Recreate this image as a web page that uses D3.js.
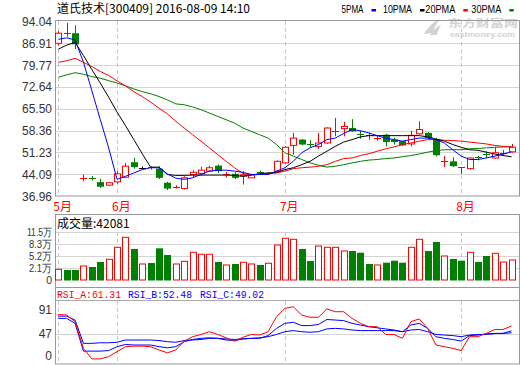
<!DOCTYPE html>
<html><head><meta charset="utf-8">
<script src="https://cdn.jsdelivr.net/npm/d3@7"></script>
<style>body{margin:0;background:#fff}svg{display:block}</style>
</head><body>
<svg width="520" height="365"></svg>
<script>
// ---------- data ----------
const dates = ["05-23","05-24","05-25","05-26","05-27","05-30","05-31",
 "06-01","06-02","06-03","06-06","06-07","06-08","06-13","06-14","06-15","06-16","06-17","06-20","06-21","06-22","06-23","06-24","06-27","06-28","06-29","06-30",
 "07-01","07-04","07-05","07-06","07-07","07-08","07-11","07-12","07-13","07-14","07-15","07-18","07-19","07-20","07-21","07-22","07-25","07-26","07-27","07-28","07-29",
 "08-01","08-02","08-03","08-04","08-05","08-08","08-09"];
const open  = [86.9,90.3,90.2,42.8,42.7,41.5,40.5,41.6,43.1,48.0,46.2,46.3,45.9,41.3,39.9,39.4,44.0,44.3,45.1,46.9,43.9,44.2,43.5,42.9,44.8,44.5,45.1,47.8,53.5,55.4,53.9,53.2,54.3,58.2,59.0,59.2,57.4,56.8,55.8,57.0,55.4,54.9,54.0,57.3,57.6,55.4,48.4,48.3,46.3,45.9,49.7,50.6,49.4,51.0,51.4];
const high  = [90.9,93.6,92.8,44.0,43.5,42.6,41.5,45.1,47.7,49.4,46.6,46.6,46.7,41.6,40.5,43.4,45.4,46.5,46.8,47.3,44.9,44.7,45.1,44.2,45.3,44.8,48.6,53.2,57.6,55.6,55.2,57.6,59.4,62.5,61.2,62.1,58.3,57.6,56.7,57.3,56.0,55.0,58.3,61.4,57.9,56.0,50.0,49.6,46.4,49.6,50.1,51.6,52.9,52.0,54.0];
const low   = [86.1,89.1,85.0,41.8,42.0,39.6,40.3,41.0,42.9,45.9,45.7,45.6,42.5,38.9,39.4,39.1,42.9,43.8,44.8,44.5,43.0,42.5,40.7,42.9,44.4,44.3,45.0,47.6,50.5,53.5,52.8,52.4,54.0,56.5,56.5,58.0,55.7,55.4,55.1,53.2,53.8,53.3,53.2,57.0,55.7,49.9,46.4,46.4,44.2,45.6,48.6,49.4,49.2,50.2,51.1];
const close = [90.2,90.1,86.6,42.9,42.6,40.0,41.3,44.2,46.7,46.4,46.2,46.1,42.9,39.4,40.0,42.9,44.7,45.4,46.2,45.1,44.0,42.9,43.9,44.0,44.7,44.6,48.3,52.9,55.9,53.8,53.8,54.3,59.2,58.3,59.7,58.1,57.3,56.7,55.9,54.6,54.6,53.5,56.8,58.7,56.0,50.3,48.5,46.7,46.2,49.4,49.6,50.5,51.1,51.1,52.9];
const ma5  = [88.2,88.7,88.0,80.7,71.4,62.0,52.7,42.4,43.4,44.5,45.6,46.2,46.2,44.2,42.8,42.4,42.9,44.0,45.1,45.4,45.4,45.1,44.7,44.0,44.0,44.0,45.1,46.2,48.3,51.1,52.7,53.8,55.4,55.9,57.4,58.7,58.3,57.6,56.7,55.9,55.4,54.9,55.4,55.9,55.9,55.4,54.3,52.1,50.0,48.9,48.9,49.4,50.0,50.7,51.4];
const ma10 = [85.0,86.3,87.2,82.9,78.3,73.9,69.3,64.4,60.0,55.4,50.8,46.4,46.4,44.0,43.7,43.7,43.8,43.8,43.8,43.8,43.8,43.7,43.4,43.8,44.3,44.5,44.7,45.6,46.2,47.2,48.3,50.0,51.6,53.2,54.6,55.4,56.3,56.7,56.7,56.7,56.7,56.7,56.7,56.7,56.3,55.6,54.9,53.8,52.9,52.1,51.9,51.3,50.7,50.2,49.8];
const ma20 = [80.7,81.2,82.0,80.7,79.3,77.7,76.4,74.6,73.0,71.1,69.5,67.7,65.7,63.8,61.4,59.2,57.0,54.9,52.7,50.5,48.3,46.2,44.3,43.8,44.0,44.2,44.5,45.1,45.9,46.2,46.4,46.7,47.2,48.3,49.2,49.4,50.2,50.8,51.6,52.4,53.0,53.8,54.3,54.9,55.4,55.4,55.2,55.1,54.9,54.6,54.3,54.0,53.5,53.2,53.0];
const ma30 = [75.8,76.6,77.3,76.8,76.0,75.5,74.7,73.9,73.0,72.0,71.1,70.4,69.5,68.4,67.1,66.8,66.1,65.2,64.1,63.0,61.9,60.8,59.2,58.1,57.0,55.9,53.8,51.1,50.0,48.9,47.8,47.0,46.4,46.7,47.2,47.8,48.3,48.7,48.9,49.2,49.4,49.8,50.2,50.7,51.3,51.8,52.1,52.1,52.1,52.4,52.5,52.7,52.9,53.0,53.2];
const volume = [25800,24100,24100,33800,31300,43400,49900,78800,102900,74700,38600,41000,76400,60300,38600,45100,66800,62000,62000,43400,36200,38600,42700,38600,36200,40300,84400,100500,98100,74700,45800,82000,78800,78800,69900,69900,65800,38600,36200,41700,46500,41700,78800,98100,69900,91600,57900,50600,46500,66800,43400,57900,64400,43400,48200];
const rsiA = [82,81,69,21,2,2,6,15,24,25,25,24,18,13,18,34,42,46,51,46,40,34,41,46,45,51,78,93,96,81,77,77,92,87,87,75,66,60,60,46,46,39,69,74,57,27,24,21,17,42,42,48,55,55,61.31];
const rsiB = [75,75,66,16,16,16,17,24,28,27,27,27,24,22,24,33,37,39,40,39,36,35,38,39,39,44,57,66,68,62,62,64,73,72,71,66,63,60,58,56,54,51,63,66,57,42,39,37,34,44,45,47,48,48,52.48];
const rsiC = [79,79,72,30,30,31,31,32,36,36,36,36,35,33,32,35,36,37,39,39,38,37,38,39,40,42,46,51,53,51,50,51,56,57,56,54,53,53,53,53,53,51,54,55,51,46,45,44,42,45,46,46,47.5,48,49.02];
const priceTicks = [36.96,44.09,51.23,58.36,65.50,72.64,79.77,86.91,94.04];
const volTicks = [0,28750,57500,86250,115000];
const volTickLabels = ["0","2.1万","5.2万","8.3万","11.5万"];
const rsiTicks = [0,47,91];
const titleText = "道氏技术[300409] 2016-08-09 14:10";
const volTitle = "成交量:42081";
const legendNames = ["5PMA","10PMA","20PMA","30PMA"];
const rsiNames = ["RSI_A:61.31","RSI_B:52.48","RSI_C:49.02"];

// ---------- drawing ----------
const RED="#ff0000", GREEN="#008000", BLUE="#0000ff", BLACK="#000000";
const svg = d3.select("svg");
const L=55.5, R=519.5;
const x = d3.scalePoint().domain(dates).range([58.3, 511.5]);
const yP = d3.scaleLinear().domain([36.96,94.04]).range([196,21.5]);
const yV = d3.scaleLinear().domain([0,115000]).range([280,232.3]);
const yR = d3.scaleLinear().domain([0,100]).range([360,304.5]);
const sans = "'Liberation Sans', Arial, sans-serif";
const mono = "'Liberation Mono','Noto Sans CJK SC', monospace";
const cjk = "'Noto Sans CJK SC', sans-serif";
const gridC = "#d4d4d4", frameC = "#999";
const monthStarts = dates.filter((d,i)=> i===0 || d.slice(0,2)!==dates[i-1].slice(0,2));

// title
svg.append("text").attr("x",57).attr("y",13).attr("font-family",cjk).attr("font-size",12)
  .attr("fill","#000").text(titleText);

// ---------- main panel ----------
const main = svg.append("g");
// watermark
const wm = main.append("g").attr("fill","#d2d2d2");
wm.append("path").attr("d","M424,34 C428,28 432,22 440,19 C436,24 434,28 433,33 Z M430,35 C433,31 436,27 441,25 C439,29 437,32 437,35 Z");
wm.append("text").attr("x",448).attr("y",27).attr("font-family",cjk).attr("font-size",10).attr("font-weight","bold")
  .attr("textLength",70).attr("lengthAdjust","spacingAndGlyphs").text("东方财富网");
wm.append("text").attr("x",450).attr("y",37).attr("font-family",sans).attr("font-size",7).attr("font-weight","bold")
  .attr("textLength",65).attr("lengthAdjust","spacingAndGlyphs").text("eastmoney.com");

main.selectAll("line.grid").data(priceTicks.slice(1,-1)).join("line")
  .attr("x1",L).attr("x2",R).attr("y1",d=>Math.round(yP(d))+0.5).attr("y2",d=>Math.round(yP(d))+0.5)
  .attr("stroke",gridC);
main.selectAll("line.mon").data(monthStarts).join("line")
  .attr("x1",d=>Math.round(x(d))+0.5).attr("x2",d=>Math.round(x(d))+0.5)
  .attr("y1",21).attr("y2",196).attr("stroke","#c8c8c8").attr("stroke-dasharray","4,3");
main.append("rect").attr("x",L).attr("y",20.5).attr("width",R-L).attr("height",175.5)
  .attr("fill","none").attr("stroke",frameC);
main.selectAll("text.pl").data(priceTicks).join("text")
  .attr("x",52).attr("y",d=>Math.max(yP(d),16)+4.5).attr("text-anchor","end")
  .attr("font-family",sans).attr("font-size",12).attr("fill","#333").text(d=>d.toFixed(2));

// legend
const legColors=[BLUE,BLACK,RED,GREEN];
const legDash=[371.5,420,463.3,509.3];
const legW=[22,29,30,30];
legendNames.forEach((n,i)=>{
  svg.append("text").attr("x",legDash[i]-8-legW[i]).attr("y",12.8)
    .attr("font-family",sans).attr("font-size",11).attr("fill","#000")
    .attr("textLength",legW[i]).attr("lengthAdjust","spacingAndGlyphs").text(n);
  svg.append("rect").attr("x",legDash[i]).attr("y",9).attr("width",4.5).attr("height",2.5).attr("fill",legColors[i]);
});

// candles
const cw=6;
const cg = main.append("g");
dates.forEach((d,i)=>{
  const o=open[i], c=close[i], h=high[i], l=low[i];
  const col = c>o?RED:(c<o?GREEN:BLACK);
  const cx = Math.round(x(d))+0.5;
  cg.append("line").attr("x1",cx).attr("x2",cx).attr("y1",yP(h)).attr("y2",yP(l)).attr("stroke",col);
  const top=yP(Math.max(o,c)), bot=yP(Math.min(o,c));
  if (bot-top < 1.2) {
    cg.append("line").attr("x1",cx-3.5).attr("x2",cx+3.5).attr("y1",Math.round(top)+0.5).attr("y2",Math.round(top)+0.5).attr("stroke",col);
  } else if (col===RED) {
    cg.append("rect").attr("x",cx-3).attr("y",top).attr("width",cw).attr("height",bot-top)
      .attr("fill","#fff").attr("stroke",RED);
  } else {
    cg.append("rect").attr("x",cx-3.5).attr("y",top).attr("width",cw+1).attr("height",bot-top).attr("fill",col);
  }
});
// moving averages
const maLine = arr => d3.line().x((d,i)=>x(dates[i])).y(d=>yP(d))(arr);
[[ma30,GREEN],[ma20,RED],[ma10,BLACK],[ma5,BLUE]].forEach(([a,c])=>{
  main.append("path").attr("d",maLine(a)).attr("fill","none").attr("stroke",c).attr("stroke-width",1);
});

// month labels
svg.selectAll("text.mlab").data(monthStarts).join("text")
  .attr("x",d=>x(d)-5).attr("y",210.5).attr("font-family",cjk).attr("font-size",12)
  .attr("fill",RED).text(d=>(+d.slice(0,2))+"月");

// ---------- volume panel ----------
const vol = svg.append("g");
vol.selectAll("line.vg").data(volTicks.slice(1)).join("line")
  .attr("x1",L).attr("x2",R).attr("y1",d=>Math.round(yV(d))+0.5).attr("y2",d=>Math.round(yV(d))+0.5).attr("stroke",gridC);
vol.selectAll("line.mon").data(monthStarts).join("line")
  .attr("x1",d=>Math.round(x(d))+0.5).attr("x2",d=>Math.round(x(d))+0.5)
  .attr("y1",232).attr("y2",280).attr("stroke","#c8c8c8").attr("stroke-dasharray","4,3");
vol.append("rect").attr("x",L).attr("y",214.5).attr("width",R-L).attr("height",73)
  .attr("fill","none").attr("stroke",frameC);
vol.append("text").attr("x",57).attr("y",227.5).attr("font-family",cjk).attr("font-size",12).attr("fill","#000").text(volTitle);
const volLabW=[0,23,23,23,25];
vol.selectAll("text.vl").data(volTicks).join("text")
  .attr("x",(d,i)=> i===0 ? 52 : 52-volLabW[i]).attr("y",d=>yV(d)+4)
  .attr("text-anchor",(d,i)=> i===0 ? "end" : "start")
  .attr("font-family",sans).attr("font-size",10.5).attr("fill","#333")
  .each(function(d,i){ if(i>0) d3.select(this).attr("textLength",volLabW[i]).attr("lengthAdjust","spacingAndGlyphs"); })
  .text((d,i)=>volTickLabels[i]);
dates.forEach((d,i)=>{
  const up = close[i]>=open[i];
  const cx = Math.round(x(d))+0.5;
  const t = yV(volume[i]);
  if (up) vol.append("rect").attr("x",cx-3).attr("y",t).attr("width",6).attr("height",yV(0)-t)
      .attr("fill","#fff").attr("stroke",RED);
  else vol.append("rect").attr("x",cx-3.5).attr("y",t).attr("width",7).attr("height",yV(0)-t+0.5).attr("fill",GREEN);
});

// ---------- RSI panel ----------
const rp = svg.append("g");
rp.append("line").attr("x1",L).attr("x2",R).attr("y1",Math.round(yR(47))+0.5).attr("y2",Math.round(yR(47))+0.5).attr("stroke",gridC);
rp.selectAll("line.mon").data(monthStarts).join("line")
  .attr("x1",d=>Math.round(x(d))+0.5).attr("x2",d=>Math.round(x(d))+0.5)
  .attr("y1",301).attr("y2",364).attr("stroke","#c8c8c8").attr("stroke-dasharray","4,3");
rp.append("rect").attr("x",L).attr("y",287.5).attr("width",R-L).attr("height",76.5)
  .attr("fill","none").attr("stroke",frameC);
rp.append("line").attr("x1",L).attr("x2",R).attr("y1",300.5).attr("y2",300.5).attr("stroke","#aaa");
const rsiCols=[RED,BLUE,BLUE];
const rsiX=[57,128,200];
rsiNames.forEach((n,i)=>{
  rp.append("text").attr("x",rsiX[i]).attr("y",297.5).attr("font-family",mono).attr("font-size",10.5)
    .attr("fill",rsiCols[i]).attr("textLength",64).attr("lengthAdjust","spacingAndGlyphs").text(n);
});
rp.selectAll("text.rl").data(rsiTicks).join("text")
  .attr("x",52).attr("y",d=>Math.min(yR(d),355)+4.5).attr("text-anchor","end")
  .attr("font-family",sans).attr("font-size",12).attr("fill","#333").text(d=>d);
const rLine = arr => d3.line().x((d,i)=>x(dates[i])).y(d=>yR(d))(arr);
[[rsiC,BLUE],[rsiB,BLUE],[rsiA,RED]].forEach(([a,c])=>{
  rp.append("path").attr("d",rLine(a)).attr("fill","none").attr("stroke",c).attr("stroke-width",1);
});
</script>
</body></html>
